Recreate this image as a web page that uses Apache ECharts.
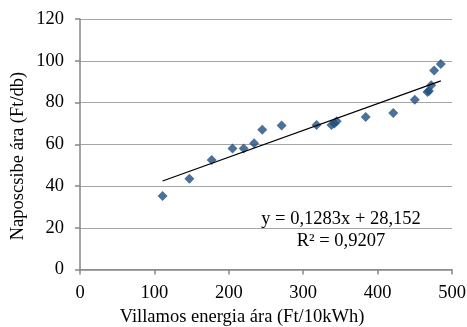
<!DOCTYPE html>
<html><head><meta charset="utf-8">
<script src="https://cdn.jsdelivr.net/npm/echarts@6/dist/echarts.min.js"></script>
<style>html,body{margin:0;padding:0;background:#fff}#c{width:467px;height:327px}</style>
</head><body><div id="c"></div>
<script>
var energyPrice = [111, 147, 177, 205, 220, 234, 245, 271, 318, 338, 342, 345, 384, 421, 450, 467, 469, 472, 476, 485];
var chickPrice  = [35.2, 43.5, 52.4, 58, 58, 60.5, 67, 69, 69.2, 69.2, 70, 71, 73, 75, 81.3, 85, 85.5, 88.3, 95.3, 98.5];
var trendX = [111, 485];
var trendY = [42.4, 90.4];
var xTicks = [0, 100, 200, 300, 400, 500];
var yTicks = [0, 20, 40, 60, 80, 100, 120];
var eqLine1 = 'y = 0,1283x + 28,152';
var eqLine2 = 'R² = 0,9207';
var xTitle = 'Villamos energia ára (Ft/10kWh)';
var yTitle = 'Naposcsibe ára (Ft/db)';

var font = '"Liberation Serif","Times New Roman",serif';
var fs = 18.5;
var chart = echarts.init(document.getElementById('c'));
var pts = energyPrice.map(function(x,i){return [x, chickPrice[i]];});
var trend = trendX.map(function(x,i){return [x, trendY[i]];});
chart.setOption({
  animation:false,
  grid:{left:80,right:15,top:19,bottom:57.5,containLabel:false,outerBoundsMode:'none'},
  xAxis:{type:'value',min:xTicks[0],max:xTicks[xTicks.length-1],interval:100,
    axisLine:{show:true,lineStyle:{color:'#868686',width:1.5}},
    axisTick:{show:true,length:5,lineStyle:{color:'#868686',width:1.5}},
    axisLabel:{margin:14,fontFamily:font,fontSize:fs,color:'#000'},
    splitLine:{show:false}},
  yAxis:{type:'value',min:yTicks[0],max:yTicks[yTicks.length-1],interval:20,
    axisLine:{show:true,lineStyle:{color:'#868686',width:1.5}},
    axisTick:{show:true,length:5,lineStyle:{color:'#868686',width:1.5}},
    axisLabel:{margin:16,fontFamily:font,fontSize:fs,color:'#000'},
    splitLine:{show:true,lineStyle:{color:'#a6a6a6',width:1}}},
  series:[
    {type:'line',data:trend,symbol:'none',lineStyle:{color:'#000',width:1.3},z:3},
    {type:'scatter',data:pts,symbol:'diamond',symbolSize:10,itemStyle:{color:'#1F4E7E'},z:2}
  ],
  graphic:[
    {type:'text',x:341,y:219,style:{text:eqLine1,font:fs+'px '+font,fill:'#000',textAlign:'center',textVerticalAlign:'middle'}},
    {type:'text',x:341,y:241,style:{text:eqLine2,font:fs+'px '+font,fill:'#000',textAlign:'center',textVerticalAlign:'middle'}},
    {type:'text',x:242,y:317,style:{text:xTitle,font:fs+'px '+font,fill:'#000',textAlign:'center',textVerticalAlign:'middle'}},
    {type:'text',x:18,y:156,rotation:Math.PI/2,style:{text:yTitle,font:fs+'px '+font,fill:'#000',textAlign:'center',textVerticalAlign:'middle'}}
  ]
});
</script></body></html>
